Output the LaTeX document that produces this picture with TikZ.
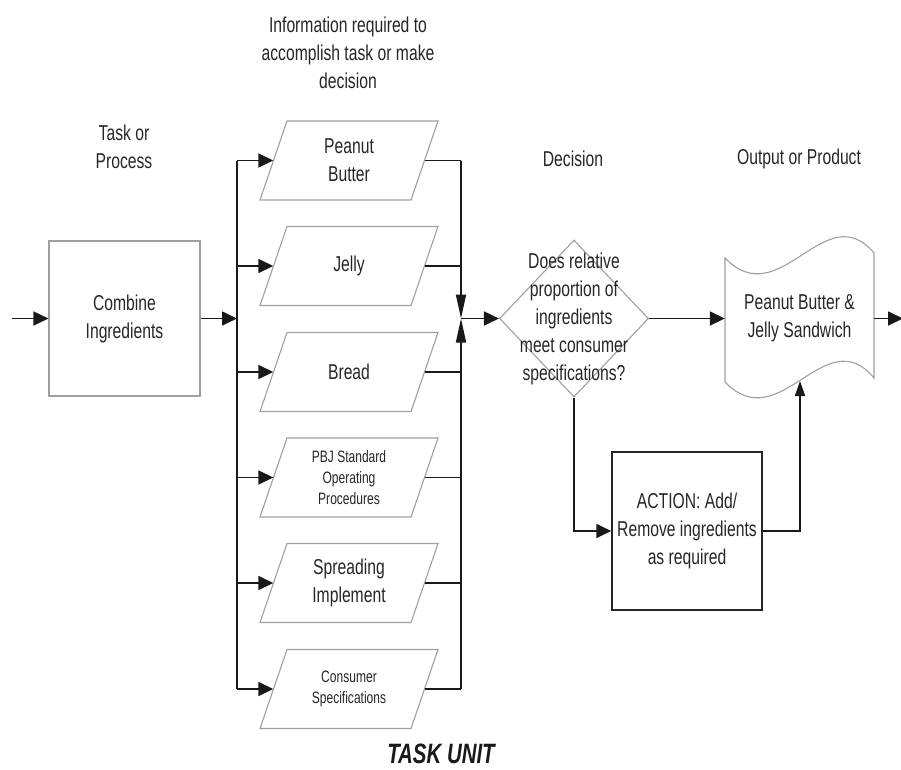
\documentclass[tikz,border=0pt]{standalone}
\usepackage{fontspec}
\setmainfont{Liberation Sans}[FakeStretch=0.73]
\usetikzlibrary{arrows.meta,shapes.geometric}

\begin{document}
\begin{tikzpicture}[x=1pt,y=-1pt,
  conn/.style={line width=1.7pt,black!90},
  harr/.style={-{Triangle[length=15pt,width=14pt]}},
  varr/.style={-{Triangle[length=24pt,width=10pt]}},
  sarr/.style={-{Triangle[length=15pt,width=10pt]}},
  outline/.style={draw=gray!75,line width=1.1pt},
  lbl/.style={font=\fontsize{21.5}{28}\selectfont,align=center,text=black!85},
  smalllbl/.style={font=\fontsize{16.5}{21}\selectfont,align=center,text=black!85},
  para/.style={rectangle,minimum width=151pt,minimum height=79pt,inner sep=0pt}
]
\useasboundingbox (0,0) rectangle (901,769);

% column headings
\node[lbl] (hinfo) at (348,53) {Information required to\\accomplish task or make\\decision};
\node[lbl] (htask) at (124,146.5) {Task or\\Process};
\node[lbl] (hdec)  at (573,159) {Decision};
\node[lbl] (hout)  at (799,159) {Output or Product};
\node[font=\fontsize{28}{32}\selectfont\bfseries\itshape,text=black!90,inner sep=0pt] (unit) at (441,754) {TASK UNIT};

% task box
\node[rectangle,outline,minimum width=151pt,minimum height=155pt,inner sep=0pt,lbl] (comb) at (124.5,318.5) {Combine\\Ingredients};
\coordinate (start) at (12,318.5);

% information inputs
\node[para,lbl] (p1) at (349,160.5) {Peanut\\Butter};
\node[para,lbl] (p2) at (349,266) {Jelly};
\node[para,lbl] (p3) at (349,372) {Bread};
\node[para,smalllbl] (p4) at (349,477.5) {PBJ Standard\\Operating\\Procedures};
\node[para,lbl] (p5) at (349,583) {Spreading\\Implement};
\node[para,smalllbl] (p6) at (349,689) {Consumer\\Specifications};
\foreach \p in {p1,p2,p3,p4,p5,p6}{
  \draw[outline] ([shift={(-62,-39.5)}]\p.center) -- ([shift={(89,-39.5)}]\p.center)
    -- ([shift={(62,39.5)}]\p.center) -- ([shift={(-89,39.5)}]\p.center) -- cycle;
}

% decision
\node[diamond,outline,minimum width=149pt,minimum height=157pt,inner sep=0pt] (dec) at (574,318.5) {};
\node[lbl] (dectext) at (574,318.5) {Does relative\\proportion of\\ingredients\\meet consumer\\specifications?};

% product
\node[rectangle,minimum width=149pt,minimum height=120pt,inner sep=0pt,lbl] (prod) at (799.5,318.5) {Peanut Butter \&\\Jelly Sandwich};
\draw[outline] (725,258) .. controls (780,315) and (825,195) .. (874,253)
  -- (874,378) .. controls (825,319) and (780,439) .. (725,382) -- cycle;
\coordinate (prodbot) at (800,381);
\coordinate (outend) at (903,318.5);

% corrective action
\node[rectangle,draw=black!85,line width=1.5pt,minimum width=150pt,minimum height=158pt,inner sep=0pt,lbl] (act) at (687,531) {ACTION: Add/\\Remove ingredients\\as required};

% buses
\coordinate (busL) at (237,0);
\coordinate (busR) at (461,0);
\coordinate (jR) at (461,318.5);

% connectors
\draw[conn,harr] (start) -- (comb.west);
\draw[conn,harr] (comb.east) -- (comb.east -| busL);
\draw[conn] (p1.west -| busL) -- (p6.west -| busL);
\foreach \p in {p1,p2,p3,p4,p5,p6}{
  \draw[conn,harr] (\p.west -| busL) -- (\p.west);
  \draw[conn] (\p.east) -- (\p.east -| busR);
}
\draw[conn,varr] (p1.east -| busR) -- (jR);
\draw[conn,varr] (p6.east -| busR) -- (jR);
\draw[conn,harr] (jR) -- (dec.west);
\draw[conn,harr] (dec.east) -- (prod.west);
\draw[conn,harr] (prod.east) -- (outend);
\draw[conn,harr] (dec.south) |- (act.west);
\draw[conn,sarr] (act.east) -| (prodbot);
\end{tikzpicture}
\end{document}
